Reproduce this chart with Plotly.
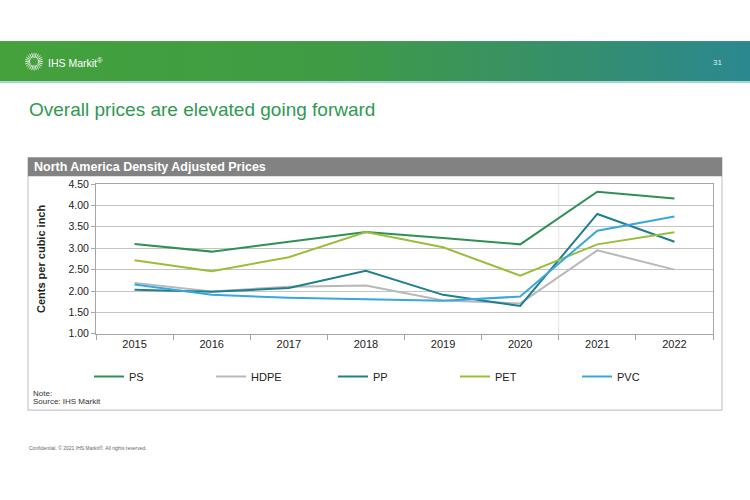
import base64
import math
import plotly.graph_objects as go

# ---------------- data ----------------
years = ["2015", "2016", "2017", "2018", "2019", "2020", "2021", "2022"]
ps = [3.10, 2.92, 3.15, 3.38, 3.24, 3.09, 4.32, 4.16]
hdpe = [2.19, 1.99, 2.10, 2.13, 1.78, 1.71, 2.95, 2.50]
pp = [2.03, 1.98, 2.07, 2.47, 1.91, 1.65, 3.80, 3.15]
pet = [2.72, 2.46, 2.79, 3.38, 3.02, 2.36, 3.09, 3.37]
pvc = [2.15, 1.91, 1.84, 1.81, 1.77, 1.87, 3.41, 3.74]
series_names = ["PS", "HDPE", "PP", "PET", "PVC"]
series_values = [ps, hdpe, pp, pet, pvc]
series_colors = ["#2e9153", "#b8b8b8", "#1f7f8e", "#9abd3a", "#3aa6e0"]
y_ticks = [1.0, 1.5, 2.0, 2.5, 3.0, 3.5, 4.0, 4.5]
forecast_start = "2021"

W, H = 750, 500
L, R, T, B = 96, 713, 184, 337  # plot area in px


def px_x(px):
    return (px - L) / (R - L)


def px_y(py):
    return (B - py) / (B - T)


FONT = "Arial, Liberation Sans, sans-serif"

fig = go.Figure()
for name, vals, col in zip(series_names, series_values, series_colors):
    fig.add_trace(go.Scatter(x=years, y=vals, mode="lines", name=name,
                             line=dict(color=col, width=2)))

# banner gradient via SVG image
rays = ""
for i in range(24):
    a = 2 * math.pi * i / 24
    x1 = 34 + 4 * math.cos(a)
    y1 = 21 + 4 * math.sin(a)
    x2 = 34 + 9 * math.cos(a)
    y2 = 21 + 9 * math.sin(a)
    rays += f'<line x1="{x1:.1f}" y1="{y1:.1f}" x2="{x2:.1f}" y2="{y2:.1f}" stroke="white" stroke-width="0.9" opacity="0.9"/>'
svg = f'''<svg xmlns="http://www.w3.org/2000/svg" width="750" height="43" viewBox="0 0 750 43" preserveAspectRatio="none">
<defs><linearGradient id="g" x1="0" y1="0" x2="1" y2="0">
<stop offset="0" stop-color="#44a13b"/>
<stop offset="0.45" stop-color="#3f9c45"/>
<stop offset="0.75" stop-color="#368f6a"/>
<stop offset="1" stop-color="#2b8890"/>
</linearGradient></defs>
<rect x="0" y="0" width="750" height="41" fill="url(#g)"/>
<rect x="0" y="41" width="750" height="2" fill="#9fd6cf"/>
{rays}
</svg>'''
src = "data:image/svg+xml;base64," + base64.b64encode(svg.encode()).decode()
fig.add_layout_image(dict(source=src, xref="paper", yref="paper",
                          x=px_x(0), y=px_y(38), sizex=750 / (R - L), sizey=43 / (B - T),
                          xanchor="left", yanchor="top", sizing="stretch", layer="below"))

shapes = [
    dict(type="rect", xref="paper", yref="paper", x0=px_x(28), x1=px_x(722),
         y0=px_y(415), y1=px_y(157), line=dict(color="#c8c8c8", width=1.2),
         fillcolor="white", layer="below"),
    dict(type="rect", xref="paper", yref="paper", x0=px_x(28), x1=px_x(722),
         y0=px_y(176), y1=px_y(157), line=dict(width=0), fillcolor="#828282",
         layer="below"),
    dict(type="line", xref="x", yref="paper",
         x0=years.index(forecast_start) - 0.5, x1=years.index(forecast_start) - 0.5,
         y0=0, y1=1, line=dict(color="#e4e4e4", width=1), layer="below"),
]

annotations = [
    dict(text="IHS Markit<sup>®</sup>", x=px_x(46), y=px_y(60), xref="paper", yref="paper",
         showarrow=False, xanchor="left", yanchor="middle",
         font=dict(family=FONT, size=10.5, color="white")),
    dict(text="31", x=px_x(717), y=px_y(60), xref="paper", yref="paper",
         showarrow=False, xanchor="center", yanchor="middle",
         font=dict(family=FONT, size=8, color="#d8eeee")),
    dict(text="Overall prices are elevated going forward", x=px_x(27), y=px_y(108),
         xref="paper", yref="paper", showarrow=False, xanchor="left", yanchor="middle",
         font=dict(family=FONT, size=19, color="#2f9a50")),
    dict(text="<b>North America Density Adjusted Prices</b>", x=px_x(32), y=px_y(166.5),
         xref="paper", yref="paper", showarrow=False, xanchor="left", yanchor="middle",
         font=dict(family=FONT, size=12.5, color="white")),
    dict(text="Note:", x=px_x(31), y=px_y(398), xref="paper",
         yref="paper", showarrow=False, xanchor="left", yanchor="middle", align="left",
         font=dict(family=FONT, size=8, color="#333333")),
    dict(text="Source: IHS Markit", x=px_x(31), y=px_y(406), xref="paper",
         yref="paper", showarrow=False, xanchor="left", yanchor="middle", align="left",
         font=dict(family=FONT, size=8, color="#333333")),
    dict(text="Confidential. © 2021 IHS Markit®. All rights reserved.", x=px_x(27),
         y=px_y(454), xref="paper", yref="paper", showarrow=False, xanchor="left",
         yanchor="middle", font=dict(family=FONT, size=5, color="#666666")),
]

fig.update_layout(
    width=W, height=H,
    margin=dict(l=L, r=W - R, t=T, b=H - B, pad=0),
    paper_bgcolor="white", plot_bgcolor="white",
    font=dict(family=FONT, color="#222222"),
    shapes=shapes, annotations=annotations,
    showlegend=True,
    legend=dict(orientation="h", xref="container", yref="container",
                x=89 / W, y=1 - 362 / H, xanchor="left", yanchor="top",
                entrywidth=77, entrywidthmode="pixels", itemwidth=30,
                font=dict(family=FONT, size=11, color="#222222"),
                bgcolor="rgba(0,0,0,0)", tracegroupgap=0),
    xaxis=dict(type="category", range=[-0.5, len(years) - 0.5], tickson="boundaries",
               ticks="outside", ticklen=5, tickcolor="#a6a6a6", showgrid=False,
               showline=True, linecolor="#a6a6a6", mirror=True,
               tickfont=dict(family=FONT, size=11, color="#222222")),
    yaxis=dict(range=[1, 4.5], tickvals=y_ticks, tickformat=".2f", ticks="outside",
               ticklen=4, tickcolor="#a6a6a6", showgrid=True, gridcolor="#c4c4c4",
               gridwidth=1, showline=True, linecolor="#a6a6a6", mirror=True,
               zeroline=False,
               tickfont=dict(family=FONT, size=10.5, color="#222222"),
               title=dict(text="<b>Cents per cubic inch</b>", standoff=20,
                          font=dict(family=FONT, size=11, color="#222222"))),
)

fig.write_html(
    "out.html", config={"displayModeBar": False},
    post_script=("document.body.style.margin='0';"
                 "document.body.style.overflow='hidden';"
                 "document.documentElement.style.overflow='hidden';"))
